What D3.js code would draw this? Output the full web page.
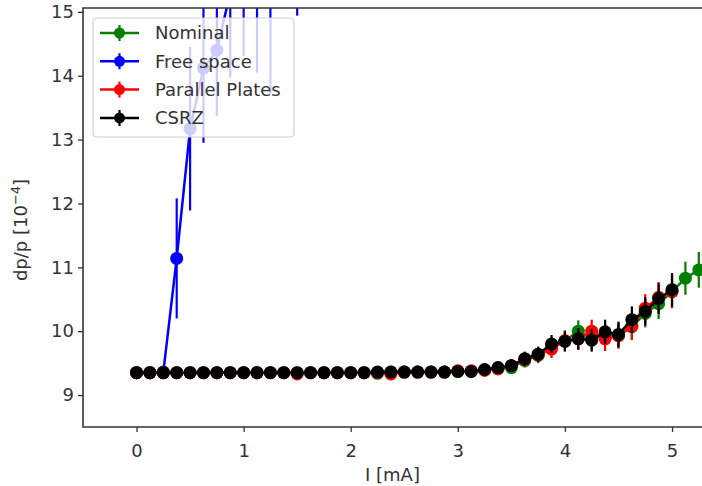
<!DOCTYPE html>
<html>
<head>
<meta charset="utf-8">
<script src="https://cdn.jsdelivr.net/npm/d3@7"></script>
<style>
  body { margin: 0; background: #fff; }
  svg text { font-family: "DejaVu Sans", sans-serif; }
</style>
</head>
<body>
<svg width="702" height="486"></svg>
<script>
// beam current [mA]
var currents = [0, 0.125, 0.25, 0.375, 0.5, 0.625, 0.75, 0.875, 1, 1.125, 1.25, 1.375, 1.5,
  1.625, 1.75, 1.875, 2, 2.125, 2.25, 2.375, 2.5, 2.625, 2.75, 2.875, 3, 3.125, 3.25, 3.375,
  3.5, 3.625, 3.75, 3.875, 4, 4.125, 4.25, 4.375, 4.5, 4.625, 4.75, 4.875, 5, 5.125, 5.25];

// energy spread dp/p [1e-4]
var nominal = [9.35, 9.35, 9.35, 9.35, 9.35, 9.35, 9.35, 9.35, 9.35, 9.35, 9.35, 9.35, 9.35,
  9.35, 9.35, 9.35, 9.35, 9.35, 9.34, 9.36, 9.36, 9.36, 9.36, 9.36, 9.37, 9.37, 9.39, 9.42,
  9.43, 9.54, 9.62, 9.76, 9.85, 10.0, 9.88, 9.96, 9.93, 10.07, 10.28, 10.43, 10.62, 10.83, 10.96];
var parallelPlates = [9.35, 9.35, 9.35, 9.35, 9.35, 9.35, 9.35, 9.35, 9.35, 9.35, 9.35, 9.35, 9.33,
  9.35, 9.35, 9.35, 9.35, 9.35, 9.35, 9.33, 9.36, 9.36, 9.36, 9.36, 9.38, 9.38, 9.39, 9.41,
  9.46, 9.56, 9.63, 9.72, 9.85, 9.88, 10.0, 9.88, 9.93, 10.08, 10.36, 10.53, 10.62];
var csrz = [9.35, 9.35, 9.35, 9.35, 9.35, 9.35, 9.35, 9.35, 9.35, 9.35, 9.35, 9.35, 9.35,
  9.35, 9.35, 9.35, 9.35, 9.35, 9.36, 9.36, 9.36, 9.36, 9.36, 9.36, 9.37, 9.37, 9.40, 9.43,
  9.46, 9.57, 9.64, 9.80, 9.84, 9.88, 9.86, 9.99, 9.95, 10.18, 10.31, 10.51, 10.65];
// error bar half length, shared by the three impedance models
var spread = [0.04, 0.04, 0.04, 0.04, 0.04, 0.04, 0.04, 0.04, 0.04, 0.04, 0.04, 0.04, 0.05,
  0.05, 0.05, 0.05, 0.05, 0.05, 0.05, 0.05, 0.05, 0.05, 0.05, 0.06, 0.06, 0.07, 0.07, 0.08,
  0.10, 0.11, 0.12, 0.14, 0.16, 0.17, 0.18, 0.19, 0.20, 0.21, 0.22, 0.24, 0.26, 0.26, 0.28];

var freeSpaceCurrents = [0, 0.125, 0.25, 0.375, 0.5, 0.625, 0.75, 0.875, 1, 1.125, 1.25, 1.375, 1.5];
var freeSpace = [9.35, 9.35, 9.36, 11.14, 13.17, 14.12, 14.4, 15.3, 15.6, 15.5, 15.4, 16.8, 16.4];
var freeSpaceErr = [0.04, 0.04, 0.05, 0.94, 1.28, 1.17, 1.03, 1.33, 1.29, 1.45, 1.68, 1.5, 1.46];

var xTicks = [0, 1, 2, 3, 4, 5];
var yTicks = [9, 10, 11, 12, 13, 14, 15];

var series = [
  { name: "Nominal", color: "#008000", x: currents, y: nominal, err: spread },
  { name: "Free space", color: "#0000ff", x: freeSpaceCurrents, y: freeSpace, err: freeSpaceErr },
  { name: "Parallel Plates", color: "#ff0000", x: currents, y: parallelPlates, err: spread },
  { name: "CSRZ", color: "#000000", x: currents, y: csrz, err: spread }
];

(function () {
  var svg = d3.select("svg");
  var left = 83, right = 702, top = 8, bottom = 427;
  var fontSize = 18;

  var xScale = d3.scaleLinear().domain([-0.5, 5.28]).range([left, right]);
  var yScale = d3.scaleLinear().domain([8.5, 15.06]).range([bottom, top]);

  svg.append("clipPath").attr("id", "plot")
    .append("rect")
    .attr("x", left).attr("y", top)
    .attr("width", right - left).attr("height", bottom - top);

  var plot = svg.append("g").attr("clip-path", "url(#plot)");

  series.forEach(function (s) {
    var pts = s.y.map(function (v, i) { return { x: s.x[i], y: v, e: s.err[i] }; });
    var g = plot.append("g");

    g.append("path")
      .datum(pts)
      .attr("fill", "none")
      .attr("stroke", s.color)
      .attr("stroke-width", 2.5)
      .attr("d", d3.line().x(function (d) { return xScale(d.x); }).y(function (d) { return yScale(d.y); }));

    g.selectAll("line")
      .data(pts)
      .enter()
      .append("line")
      .attr("x1", function (d) { return xScale(d.x); })
      .attr("x2", function (d) { return xScale(d.x); })
      .attr("y1", function (d) { return yScale(d.y - d.e); })
      .attr("y2", function (d) { return yScale(d.y + d.e); })
      .attr("stroke", s.color)
      .attr("stroke-width", 2.2);

    g.selectAll("circle")
      .data(pts)
      .enter()
      .append("circle")
      .attr("cx", function (d) { return xScale(d.x); })
      .attr("cy", function (d) { return yScale(d.y); })
      .attr("r", 6.5)
      .attr("fill", s.color);
  });

  // axes
  var xAxis = svg.append("g")
    .attr("transform", "translate(0," + bottom + ")")
    .call(d3.axisBottom(xScale).tickValues(xTicks).tickFormat(d3.format("d"))
      .tickSize(5).tickPadding(12).tickSizeOuter(0));
  var yAxis = svg.append("g")
    .attr("transform", "translate(" + left + ",0)")
    .call(d3.axisLeft(yScale).tickValues(yTicks).tickFormat(d3.format("d"))
      .tickSize(5).tickPadding(4).tickSizeOuter(0));

  [xAxis, yAxis].forEach(function (a) {
    a.select(".domain").remove();
    a.selectAll("line").attr("stroke", "#333").attr("stroke-width", 1.3);
    a.selectAll("text").attr("font-size", fontSize).attr("fill", "#333")
      .style("font-family", "'DejaVu Sans', sans-serif");
  });

  // spines
  svg.append("path")
    .attr("d", "M" + right + "," + top + "H" + left + "V" + bottom + "H" + right)
    .attr("fill", "none")
    .attr("stroke", "#333")
    .attr("stroke-width", 1.6);

  svg.append("text")
    .attr("x", (left + right) / 2)
    .attr("y", 481)
    .attr("text-anchor", "middle")
    .attr("font-size", fontSize)
    .attr("fill", "#333")
    .text("I [mA]");

  var ylab = svg.append("text")
    .attr("transform", "translate(27,230) rotate(-90)")
    .attr("text-anchor", "middle")
    .attr("font-size", fontSize)
    .attr("fill", "#333");
  ylab.append("tspan").text("dp/p [10");
  ylab.append("tspan").attr("baseline-shift", "super").attr("font-size", 13).text("\u22124");
  ylab.append("tspan").text("]");

  // legend
  var legend = svg.append("g");
  legend.append("rect")
    .attr("x", 93).attr("y", 18)
    .attr("width", 201).attr("height", 119)
    .attr("rx", 4)
    .attr("fill", "#fff").attr("fill-opacity", 0.8)
    .attr("stroke", "#d0d0d0").attr("stroke-width", 1.2);

  var rows = legend.selectAll("g.row")
    .data(series)
    .enter()
    .append("g")
    .attr("class", "row")
    .attr("transform", function (d, i) { return "translate(0," + (33 + i * 28.3) + ")"; });

  rows.append("line")
    .attr("x1", 100).attr("x2", 139)
    .attr("stroke", function (d) { return d.color; })
    .attr("stroke-width", 2.5);
  rows.append("line")
    .attr("x1", 119.5).attr("x2", 119.5).attr("y1", -8).attr("y2", 8)
    .attr("stroke", function (d) { return d.color; })
    .attr("stroke-width", 2.2);
  rows.append("circle")
    .attr("cx", 119.5).attr("r", 5.5)
    .attr("fill", function (d) { return d.color; });
  rows.append("text")
    .attr("x", 155).attr("dy", "0.35em")
    .attr("font-size", fontSize)
    .attr("fill", "#333")
    .text(function (d) { return d.name; });
}());
</script>
</body>
</html>
